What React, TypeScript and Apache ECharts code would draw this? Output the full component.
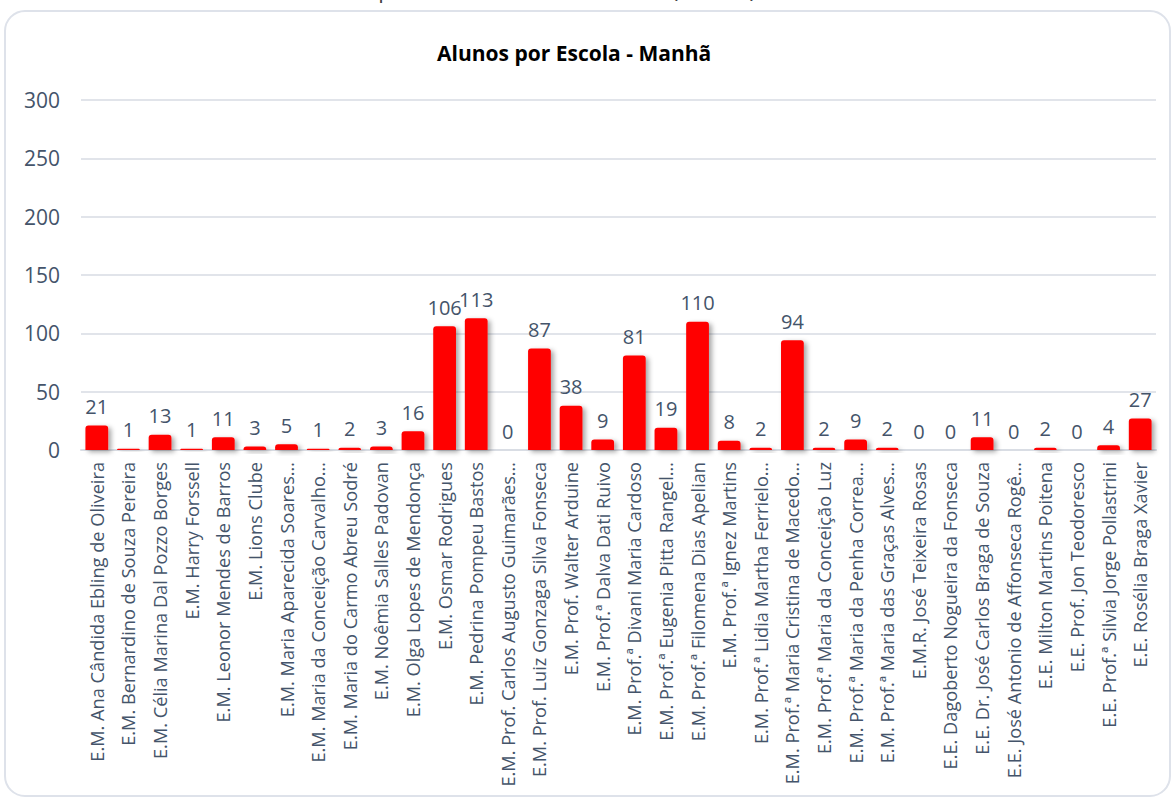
import React, { useEffect, useRef } from "react";
import * as echarts from "echarts";

const titleText = "Alunos por Escola - Manhã";
const headerText = "Total de Alunos por Escola da Rede Estadual (Manhã)";

const schools = [
  "E.M. Ana Cândida Ebling de Oliveira",
  "E.M. Bernardino de Souza Pereira",
  "E.M. Célia Marina Dal Pozzo Borges",
  "E.M. Harry Forssell",
  "E.M. Leonor Mendes de Barros",
  "E.M. Lions Clube",
  "E.M. Maria Aparecida Soares…",
  "E.M. Maria da Conceição Carvalho…",
  "E.M. Maria do Carmo Abreu Sodré",
  "E.M. Noêmia Salles Padovan",
  "E.M. Olga Lopes de Mendonça",
  "E.M. Osmar Rodrigues",
  "E.M. Pedrina Pompeu Bastos",
  "E.M. Prof. Carlos Augusto Guimarães…",
  "E.M. Prof. Luiz Gonzaga Silva Fonseca",
  "E.M. Prof. Walter Arduine",
  "E.M. Prof.ª Dalva Dati Ruivo",
  "E.M. Prof.ª Divani Maria Cardoso",
  "E.M. Prof.ª Eugenia Pitta Rangel…",
  "E.M. Prof.ª Filomena Dias Apelian",
  "E.M. Prof.ª Ignez Martins",
  "E.M. Prof.ª Lidia Martha Ferrielo…",
  "E.M. Prof.ª Maria Cristina de Macedo…",
  "E.M. Prof.ª Maria da Conceição Luz",
  "E.M. Prof.ª Maria da Penha Correa…",
  "E.M. Prof.ª Maria das Graças Alves…",
  "E.M.R. José Teixeira Rosas",
  "E.E. Dagoberto Nogueira da Fonseca",
  "E.E. Dr. José Carlos Braga de Souza",
  "E.E. José Antonio de Affonseca Rogê…",
  "E.E. Milton Martins Poitena",
  "E.E. Prof. Jon Teodoresco",
  "E.E. Prof.ª Silvia Jorge Pollastrini",
  "E.E. Rosélia Braga Xavier",
];

const students = [
  21, 1, 13, 1, 11, 3, 5, 1, 2, 3, 16, 106, 113, 0, 87, 38, 9, 81, 19, 110, 8, 2,
  94, 2, 9, 2, 0, 0, 11, 0, 2, 0, 4, 27,
];

const yMin = 0;
const yMax = 300;
const yStep = 50;

export default function App() {
  const ref = useRef<HTMLDivElement>(null);

  useEffect(() => {
    if (!ref.current) return;
    const chart = echarts.init(ref.current, null, { renderer: "svg" });
    const textColor = "#44546A";
    const font = "'Open Sans', 'Noto Sans', sans-serif";
    chart.setOption({
      animation: false,
      backgroundColor: "#ffffff",
      title: {
        text: titleText,
        left: 432,
        top: 37,
        textStyle: {
          fontFamily: font,
          fontSize: 21,
          fontWeight: "bold",
          color: "#000000",
        },
      },
      graphic: [
        {
          type: "rect",
          silent: true,
          shape: { x: 5, y: 11, width: 1165, height: 785, r: 20 },
          style: { fill: "none", stroke: "#DEE2EA", lineWidth: 2 },
        },
        {
          type: "text",
          silent: true,
          x: 756,
          y: 0,
          style: {
            text: headerText,
            align: "right",
            verticalAlign: "bottom",
            fontFamily: font,
            fontSize: 22,
            fill: "#404040",
          },
        },
      ],
      grid: { left: 81, right: 20, top: 100, bottom: 351, containLabel: false },
      xAxis: {
        type: "category",
        data: schools,
        axisLine: { show: true, lineStyle: { color: "#D9DDE4", width: 2 } },
        axisTick: { show: false },
        axisLabel: {
          rotate: 90,
          interval: 0,
          margin: 12,
          color: textColor,
          fontFamily: font,
          fontSize: 18.2,
        },
      },
      yAxis: {
        type: "value",
        min: yMin,
        max: yMax,
        interval: yStep,
        axisLine: { show: false },
        axisTick: { show: false },
        splitLine: { lineStyle: { color: "#E1E4EA", width: 2 } },
        axisLabel: {
          margin: 21,
          color: textColor,
          fontFamily: font,
          fontSize: 21,
        },
      },
      series: [
        {
          type: "bar",
          data: students,
          barWidth: "72%",
          itemStyle: {
            color: "#FF0000",
            borderRadius: [3, 3, 0, 0],
            shadowColor: "rgba(0,0,0,0.35)",
            shadowBlur: 5,
            shadowOffsetX: 3,
            shadowOffsetY: 2,
          },
          label: {
            show: true,
            position: "top",
            distance: 9,
            color: textColor,
            fontFamily: font,
            fontSize: 20,
          },
        },
      ],
    });
    return () => chart.dispose();
  }, []);

  return (
    <div
      ref={ref}
      style={{ position: "fixed", left: 0, top: 0, width: 1176, height: 801 }}
    />
  );
}
